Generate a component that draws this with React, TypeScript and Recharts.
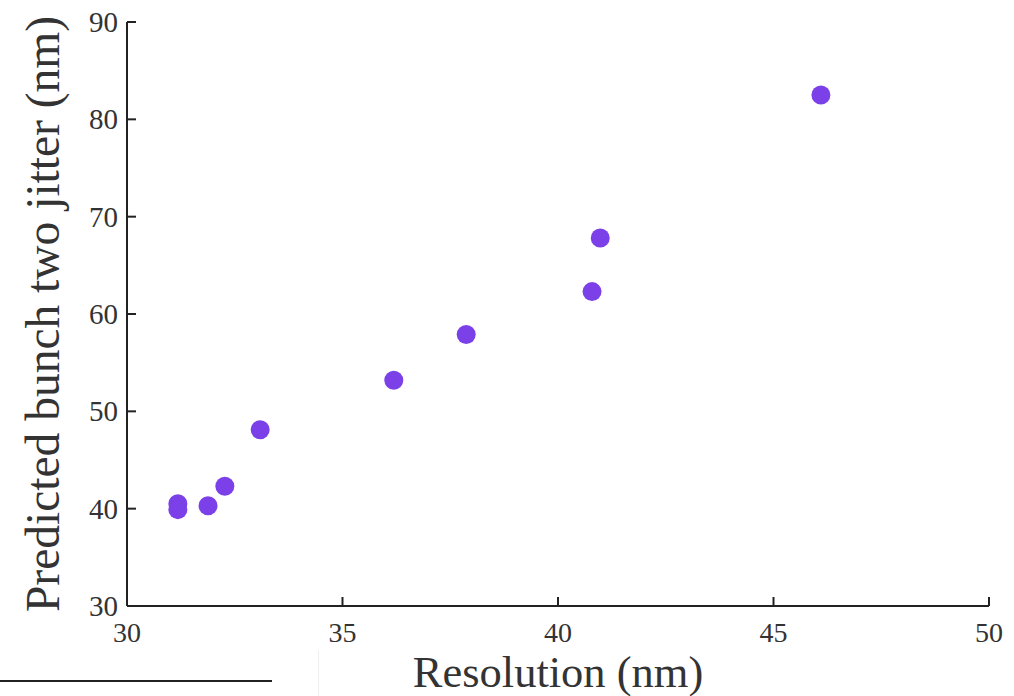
import React from "react";
import { Label, Scatter, ScatterChart, XAxis, YAxis } from "recharts";

// resolution (nm) vs predicted bunch two jitter (nm)
const resolution = [31.18, 31.18, 31.88, 32.27, 33.09, 36.19, 37.87, 40.79, 40.98, 46.1];
const jitter = [40.5, 39.9, 40.3, 42.3, 48.1, 53.2, 57.9, 62.3, 67.8, 82.5];

const xTicks = [30, 35, 40, 45, 50];
const yTicks = [30, 40, 50, 60, 70, 80, 90];

const points = resolution.map((r, i) => ({ r, j: jitter[i] }));

const FONT = "'Liberation Serif', 'DejaVu Serif', serif";
const DOT = "#7b40e8";

const XTick = (p: any) => {
  const { x, y, payload } = p;
  return (
    <g>
      <line x1={x} y1={y} x2={x} y2={y - 9} stroke="#222" strokeWidth={2} />
      <text x={x} y={y + 36} textAnchor="middle" fontFamily={FONT} fontSize={28} fill="#333">
        {payload.value}
      </text>
    </g>
  );
};

const YTick = (p: any) => {
  const { x, y, payload } = p;
  return (
    <g>
      <line x1={x} y1={y} x2={x + 9} y2={y} stroke="#222" strokeWidth={2} />
      <text x={x - 9} y={y + 10} textAnchor="end" fontFamily={FONT} fontSize={29} fill="#333">
        {payload.value}
      </text>
    </g>
  );
};

const Dot = (p: any) => <circle cx={p.cx} cy={p.cy} r={9.5} fill={DOT} />;

export default function App() {
  return (
    <div style={{ position: "relative", width: 1014, height: 696, overflow: "hidden", background: "#fff" }}>
      <style>{`body{margin:0}`}</style>
      <ScatterChart width={1014} height={696} margin={{ top: 22, right: 25, bottom: 0, left: 0 }}>
        <XAxis
          type="number"
          dataKey="r"
          domain={[30, 50]}
          ticks={xTicks}
          height={90}
          tickSize={0}
          tickMargin={0}
          tick={<XTick />}
          axisLine={{ stroke: "#222", strokeWidth: 2 }}
          tickLine={false}
          interval={0}
        >
          <Label
            value="Resolution (nm)"
            position="center"
            dy={20}
            style={{ fontFamily: FONT, fontSize: 44.5, fill: "#333" }}
          />
        </XAxis>
        <YAxis
          type="number"
          dataKey="j"
          domain={[30, 90]}
          ticks={yTicks}
          width={127}
          tickSize={0}
          tickMargin={0}
          tick={<YTick />}
          axisLine={{ stroke: "#222", strokeWidth: 2 }}
          tickLine={false}
          interval={0}
        >
          <Label
            value="Predicted bunch two jitter (nm)"
            position="center"
            angle={-90}
            dx={-21}
            style={{ fontFamily: FONT, fontSize: 47.5, fill: "#333", textAnchor: "middle" }}
          />
        </YAxis>
        <Scatter data={points} fill={DOT} shape={<Dot />} isAnimationActive={false} />
      </ScatterChart>
      <div style={{ position: "absolute", left: 0, top: 680, width: 272, borderTop: "2px solid #222" }} />
      <div style={{ position: "absolute", left: 318, top: 650, height: 46, borderLeft: "1px solid #eee" }} />
    </div>
  );
}
